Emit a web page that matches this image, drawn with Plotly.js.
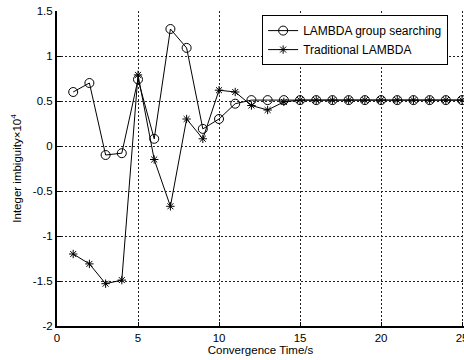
<!DOCTYPE html>
<html>
<head>
<meta charset="utf-8">
<script src="https://cdn.plot.ly/plotly-3.0.1.min.js"></script>
<style>html,body{margin:0;padding:0;background:#fff;}#chart{width:464px;height:360px;}</style>
</head>
<body>
<div id="chart"></div>
<script>
const timeS = [1,2,3,4,5,6,7,8,9,10,11,12,13,14,15,16,17,18,19,20,21,22,23,24,25];
const groupSearching = [0.60,0.70,-0.10,-0.08,0.74,0.08,1.30,1.09,0.19,0.30,0.47,0.51,0.51,0.51,0.51,0.51,0.51,0.51,0.51,0.51,0.51,0.51,0.51,0.51,0.51];
const traditional = [-1.20,-1.31,-1.53,-1.49,0.79,-0.15,-0.67,0.30,0.08,0.62,0.60,0.45,0.40,0.49,0.51,0.51,0.51,0.51,0.51,0.51,0.51,0.51,0.51,0.51,0.51];
const xTicks = [0,5,10,15,20,25];
const yTicks = [-2,-1.5,-1,-0.5,0,0.5,1,1.5];
const yTickText = ['-2','-1.5','-1','-0.5','0','0.5','1','1.5'];

const font = {family: 'Liberation Sans, Arial, sans-serif', size: 11.5, color: '#000'};
const legendFont = {family: 'Liberation Sans, Arial, sans-serif', size: 12, color: '#000'};

const traces = [
  {x: timeS, y: groupSearching, name: 'LAMBDA group searching', mode: 'lines+markers',
   line: {color: '#000', width: 1},
   marker: {symbol: 'circle-open', size: 9, color: '#000', line: {width: 1, color: '#000'}}},
  {x: timeS, y: traditional, name: 'Traditional LAMBDA', mode: 'lines+markers',
   line: {color: '#000', width: 1},
   marker: {symbol: 'asterisk-open', size: 7, color: '#000', line: {width: 1, color: '#000'}}}
];

const layout = {
  width: 464, height: 360,
  margin: {l: 57, r: 0, t: 11, b: 34, pad: 0},
  paper_bgcolor: '#fff', plot_bgcolor: '#fff',
  font: font,
  showlegend: true,
  legend: {x: 0.504, y: 0.987, xanchor: 'left', yanchor: 'top',
           bgcolor: '#fff', bordercolor: '#000', borderwidth: 1,
           font: legendFont, tracegroupgap: 0},
  xaxis: {range: [0, 25.12], tickvals: xTicks, ticktext: xTicks.map(String),
          ticks: 'inside', ticklen: 4, tickcolor: '#000', ticklabeloverflow: 'allow',
          showline: true, linecolor: '#000', linewidth: 2,
          showgrid: true, gridcolor: '#222', gridwidth: 1, griddash: '2px,2px',
          zeroline: false, tickfont: font,
          title: {text: 'Convergence Time/s', font: font, standoff: 3}},
  xaxis2: {overlaying: 'x', matches: 'x', side: 'top', range: [0, 25.12],
           tickvals: xTicks, showticklabels: false, ticks: 'inside', ticklen: 4,
           tickcolor: '#000', showline: true, linecolor: '#000', linewidth: 1,
           showgrid: false, zeroline: false},
  yaxis: {range: [-2, 1.5], tickvals: yTicks, ticktext: yTickText,
          ticks: 'inside', ticklen: 4, tickcolor: '#000',
          showline: true, linecolor: '#000', linewidth: 2,
          showgrid: true, gridcolor: '#222', gridwidth: 1, griddash: '2px,2px',
          zeroline: false, tickfont: font,
          title: {text: 'Integer imbiguity×10<sup>4</sup>', font: font, standoff: 9}}
};

Plotly.newPlot('chart', traces, layout, {staticPlot: true, displayModeBar: false});
</script>
</body>
</html>
